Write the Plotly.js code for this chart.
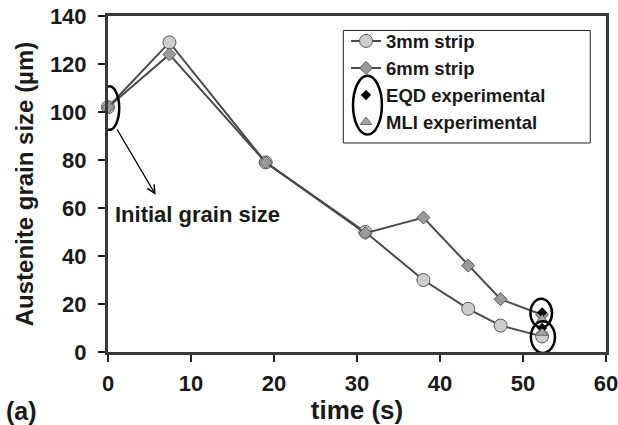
<!DOCTYPE html>
<html>
<head>
<meta charset="utf-8">
<script src="https://cdn.plot.ly/plotly-3.0.1.min.js"></script>
<style>
  html, body { margin: 0; padding: 0; background: #fff; }
  #chart { width: 618px; height: 425px; }
</style>
</head>
<body>
<div id="chart"></div>
<script>
// Simulated austenite grain size along the strip, plus measured end values
const timeS = [0, 7.4, 19, 31, 38, 43.4, 47.3, 52.3];
const strip3mm = [102, 129, 79, 50, 30, 18, 11, 6.5];
const strip6mm = [102, 124, 79, 49.5, 56, 36, 22, 15.5];

const expTime = [52.3, 52.3];
const eqdExperimental = [16.5, 10];
const mliExperimental = [13.5, 8];

const seriesNames = ['3mm strip', '6mm strip', 'EQD experimental', 'MLI experimental'];

const xTicks = [0, 10, 20, 30, 40, 50, 60];
const yTicks = [0, 20, 40, 60, 80, 100, 120, 140];

const FONT = 'Liberation Sans, Arial, Helvetica, sans-serif';
const LINE = '#4a4a4a';

const traces = [
  {
    x: timeS, y: strip3mm, name: seriesNames[0], type: 'scatter', mode: 'lines+markers',
    line: { color: LINE, width: 2 },
    marker: { symbol: 'circle', size: 13, color: '#cdcdcd', line: { color: '#5a5a5a', width: 1 } },
    cliponaxis: false
  },
  {
    x: timeS, y: strip6mm, name: seriesNames[1], type: 'scatter', mode: 'lines+markers',
    line: { color: LINE, width: 2 },
    marker: { symbol: 'diamond', size: 10, color: '#9a9a9a', line: { color: '#5a5a5a', width: 1 } },
    cliponaxis: false
  },
  {
    x: expTime, y: eqdExperimental, name: seriesNames[2], type: 'scatter', mode: 'markers',
    marker: { symbol: 'diamond', size: 8, color: '#000000', line: { color: '#000000', width: 0 } },
    cliponaxis: false
  },
  {
    x: expTime, y: mliExperimental, name: seriesNames[3], type: 'scatter', mode: 'markers',
    marker: { symbol: 'triangle-up', size: 10, color: '#a6a6a6', line: { color: '#6a6a6a', width: 1 } },
    cliponaxis: false
  }
];

const axisCommon = {
  showgrid: false, zeroline: false,
  showline: true, linecolor: '#3a3a3a', linewidth: 3, mirror: true,
  ticks: 'outside', ticklen: 7, tickwidth: 1.5, tickcolor: '#222',
  ticklabeloverflow: 'allow',
  tickfont: { family: FONT, size: 22, color: '#1a1a1a', weight: 'bold' }
};

const layout = {
  width: 618, height: 425,
  margin: { l: 108, r: 12, t: 16, b: 73, pad: 0 },
  paper_bgcolor: '#ffffff', plot_bgcolor: '#ffffff',
  font: { family: FONT, color: '#1a1a1a' },
  showlegend: true,
  legend: {
    x: 0.478, y: 0.981, xanchor: 'left', yanchor: 'top',
    bgcolor: 'rgba(0,0,0,0)', borderwidth: 0,
    font: { family: FONT, size: 18.5, color: '#1a1a1a', weight: 'bold' },
    traceorder: 'normal'
  },
  xaxis: Object.assign({}, axisCommon, {
    range: [0, 60], tickvals: xTicks, ticktext: xTicks.map(String),
    ticklabelstandoff: 3,
    title: { text: 'time (s)', font: { family: FONT, size: 26, color: '#1a1a1a', weight: 'bold' }, standoff: 4 }
  }),
  yaxis: Object.assign({}, axisCommon, {
    range: [0, 140], tickvals: yTicks, ticktext: yTicks.map(String),
    ticklabelstandoff: 7,
    title: { text: 'Austenite grain size (µm)', font: { family: FONT, size: 24, color: '#1a1a1a', weight: 'bold' }, standoff: 10 }
  }),
  shapes: [
    // legend frame
    { type: 'rect', xref: 'paper', yref: 'paper', x0: 0.4725, x1: 0.9684, y0: 0.622, y1: 0.957,
      line: { color: '#222', width: 1 }, fillcolor: 'rgba(0,0,0,0)' },
    // ellipse grouping the experimental legend symbols
    { type: 'circle', xref: 'paper', yref: 'paper', x0: 0.492, x1: 0.550, y0: 0.647, y1: 0.822,
      line: { color: '#000', width: 2.5 } },
    // initial grain size marker ring
    { type: 'circle', xref: 'x', yref: 'y', x0: -1.0, x1: 1.35, y0: 92.6, y1: 110.7,
      line: { color: '#000', width: 2.5 } },
    // rings around the measured end values
    { type: 'circle', xref: 'x', yref: 'y', x0: 50.9, x1: 53.5, y0: 10.2, y1: 22.2,
      line: { color: '#000', width: 2.5 } },
    { type: 'circle', xref: 'x', yref: 'y', x0: 50.95, x1: 53.85, y0: -0.4, y1: 12.8,
      line: { color: '#000', width: 2.5 } }
  ],
  annotations: [
    { x: 5.74, y: 65.5, ax: 1.0, ay: 93.3, xref: 'x', yref: 'y', axref: 'x', ayref: 'y',
      text: '', showarrow: true, arrowhead: 5, arrowsize: 1.3, arrowwidth: 1.2, arrowcolor: '#000' },
    { x: 0.6, y: 57.2, xref: 'x', yref: 'y', xanchor: 'left', yanchor: 'middle', showarrow: false,
      text: 'Initial grain size', font: { family: FONT, size: 22, color: '#1a1a1a', weight: 'bold' } },
    { x: -0.208, y: -0.176, xref: 'paper', yref: 'paper', xanchor: 'left', yanchor: 'middle', showarrow: false,
      text: '(a)', font: { family: FONT, size: 25, color: '#1a1a1a', weight: 'bold' } }
  ]
};

Plotly.newPlot('chart', traces, layout, { staticPlot: true, displayModeBar: false });
</script>
</body>
</html>
